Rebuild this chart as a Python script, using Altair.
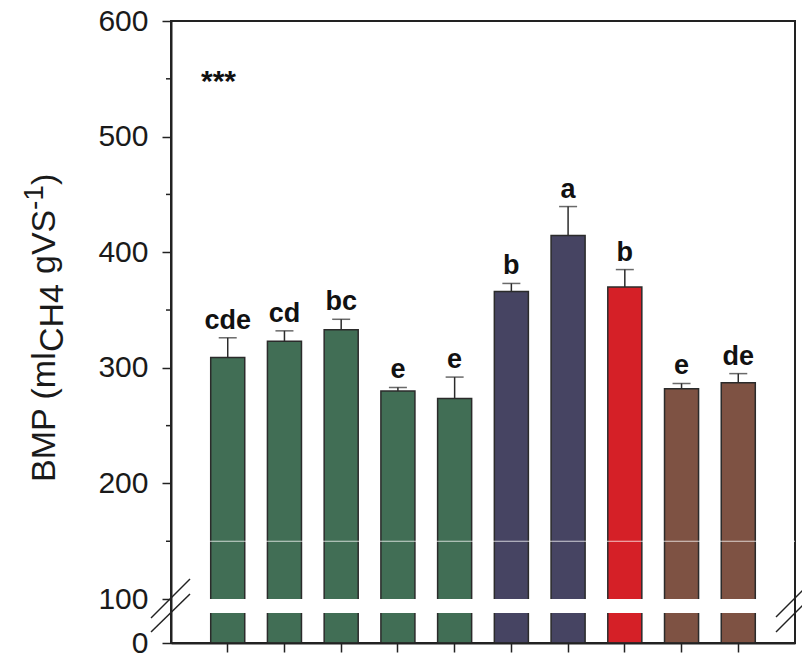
import altair as alt
import pandas as pd

# ---- data ----
groups = ["T1", "T2", "T3", "T4", "T5", "T6", "T7", "T8", "T9", "T10"]
family = ["G", "G", "G", "G", "G", "N", "N", "R", "B", "B"]
bmp_mean = [309, 323, 333, 280, 273.5, 366, 414.5, 370, 282, 287]
bmp_err = [17, 9, 9, 3, 18.5, 7, 25, 15, 4.5, 8]
letters = ["cde", "cd", "bc", "e", "e", "b", "a", "b", "e", "de"]
y_major = [0, 100, 200, 300, 400, 500, 600]
y_minor = [150, 250, 350, 450, 550]

FAM_DOMAIN = ["G", "N", "R", "B"]
FAM_COLORS = ["#416e55", "#464462", "#d52027", "#7e5243"]

AXIS_ZERO = 62          # display position of the real 0 (below the axis break)
BREAK_LO, BREAK_HI = 88, 100
W, H = 624, 622
FONT = "Liberation Sans"
INK = "#222222"

df = pd.DataFrame({"group": groups, "family": family, "mean": bmp_mean,
                   "err": bmp_err, "letter": letters})
df["top"] = df["mean"] + df["err"]

major_disp = [AXIS_ZERO if v == 0 else v for v in y_major]
yscale = alt.Scale(domain=[AXIS_ZERO, 600], nice=False, zero=False)

xenc = alt.X("group:N", sort=groups,
             scale=alt.Scale(paddingInner=0.4, paddingOuter=0.7),
             axis=alt.Axis(labels=False, title=None, tickSize=9, tickWidth=1.5,
                           tickColor=INK, domainWidth=2, domainColor=INK, zindex=1))

yaxis = alt.Axis(values=major_disp,
                 labelExpr=f"datum.value == {AXIS_ZERO} ? '0' : format(datum.value, 'd')",
                 tickSize=9, tickWidth=1.5, tickColor=INK, domainWidth=2,
                 domainColor=INK, labelFontSize=30, labelFont=FONT,
                 labelColor="#1a1a1a", labelPadding=14, grid=False,
                 title=None, zindex=1)

base = alt.Chart(df)

bars = base.mark_bar(stroke="#2b2b2b", strokeWidth=1.5).encode(
    x=xenc,
    y=alt.Y("mean:Q", scale=yscale, axis=yaxis),
    y2=alt.datum(AXIS_ZERO),
    color=alt.Color("family:N", scale=alt.Scale(domain=FAM_DOMAIN, range=FAM_COLORS),
                    legend=None),
)

err_rule = base.mark_rule(color="#2b2b2b", strokeWidth=1.5).encode(
    x=alt.X("group:N", sort=groups), y=alt.Y("mean:Q"), y2="top:Q")

err_cap = base.mark_tick(orient="horizontal", size=18, thickness=1.5,
                         color="#2b2b2b").encode(
    x=alt.X("group:N", sort=groups), y=alt.Y("top:Q"))

labels = base.mark_text(fontSize=27, fontWeight="bold", font=FONT, baseline="bottom",
                        dy=-3, color="#111111").encode(
    x=alt.X("group:N", sort=groups), y=alt.Y("top:Q"), text="letter:N")

one = alt.Chart(pd.DataFrame({"k": [0]}))

break_gap = one.mark_rect(color="white").encode(
    x=alt.value(2), x2=alt.value(W - 2),
    y=alt.datum(BREAK_HI), y2=alt.datum(BREAK_LO))

faint_line = one.mark_rule(color="white", opacity=0.75, strokeWidth=1).encode(
    x=alt.value(0), x2=alt.value(W), y=alt.datum(150))

minor = alt.Chart(pd.DataFrame({"v": y_minor})).mark_rule(
    color=INK, strokeWidth=1.5).encode(
    x=alt.value(-5), x2=alt.value(0), y=alt.Y("v:Q"))

slashes = alt.Chart(pd.DataFrame({
    "x1": [-20, -20, W - 19, W - 19],
    "x2": [19, 19, W + 20, W + 20],
    "y1": [597, 611, 596, 611],
    "y2": [558, 573, 557, 572],
})).mark_rule(color=INK, strokeWidth=1.5).encode(
    x=alt.X("x1:Q", scale=None), x2="x2:Q",
    y=alt.Y("y1:Q", scale=None), y2="y2:Q")

stars = one.mark_text(text="***", fontSize=30, fontWeight="bold", font=FONT,
                      align="left", baseline="alphabetic", color="#111111").encode(
    x=alt.value(30), y=alt.value(70))

def title_piece(txt, x, y, size=34):
    return one.mark_text(text=txt, fontSize=size, font=FONT, angle=270, align="left",
                         baseline="alphabetic", color="#1a1a1a").encode(
        x=alt.value(x), y=alt.value(y))

title = (title_piece("BMP (ml", -116, 461)
         + title_piece("CH4", -108, 331)
         + title_piece("gVS", -116, 253)
         + title_piece("-1", -128, 189, 28)
         + title_piece(")", -116, 164))

chart = alt.layer(
    bars, err_rule, err_cap, labels, break_gap, faint_line, minor, slashes, stars, title
).properties(
    width=W, height=H,
    autosize=alt.AutoSizeParams(type="none"),
    padding={"left": 163, "top": 13, "right": 7, "bottom": 14},
).configure_view(stroke=INK, strokeWidth=2)

chart.save("out.html", embed_options={"renderer": "svg", "actions": False})
